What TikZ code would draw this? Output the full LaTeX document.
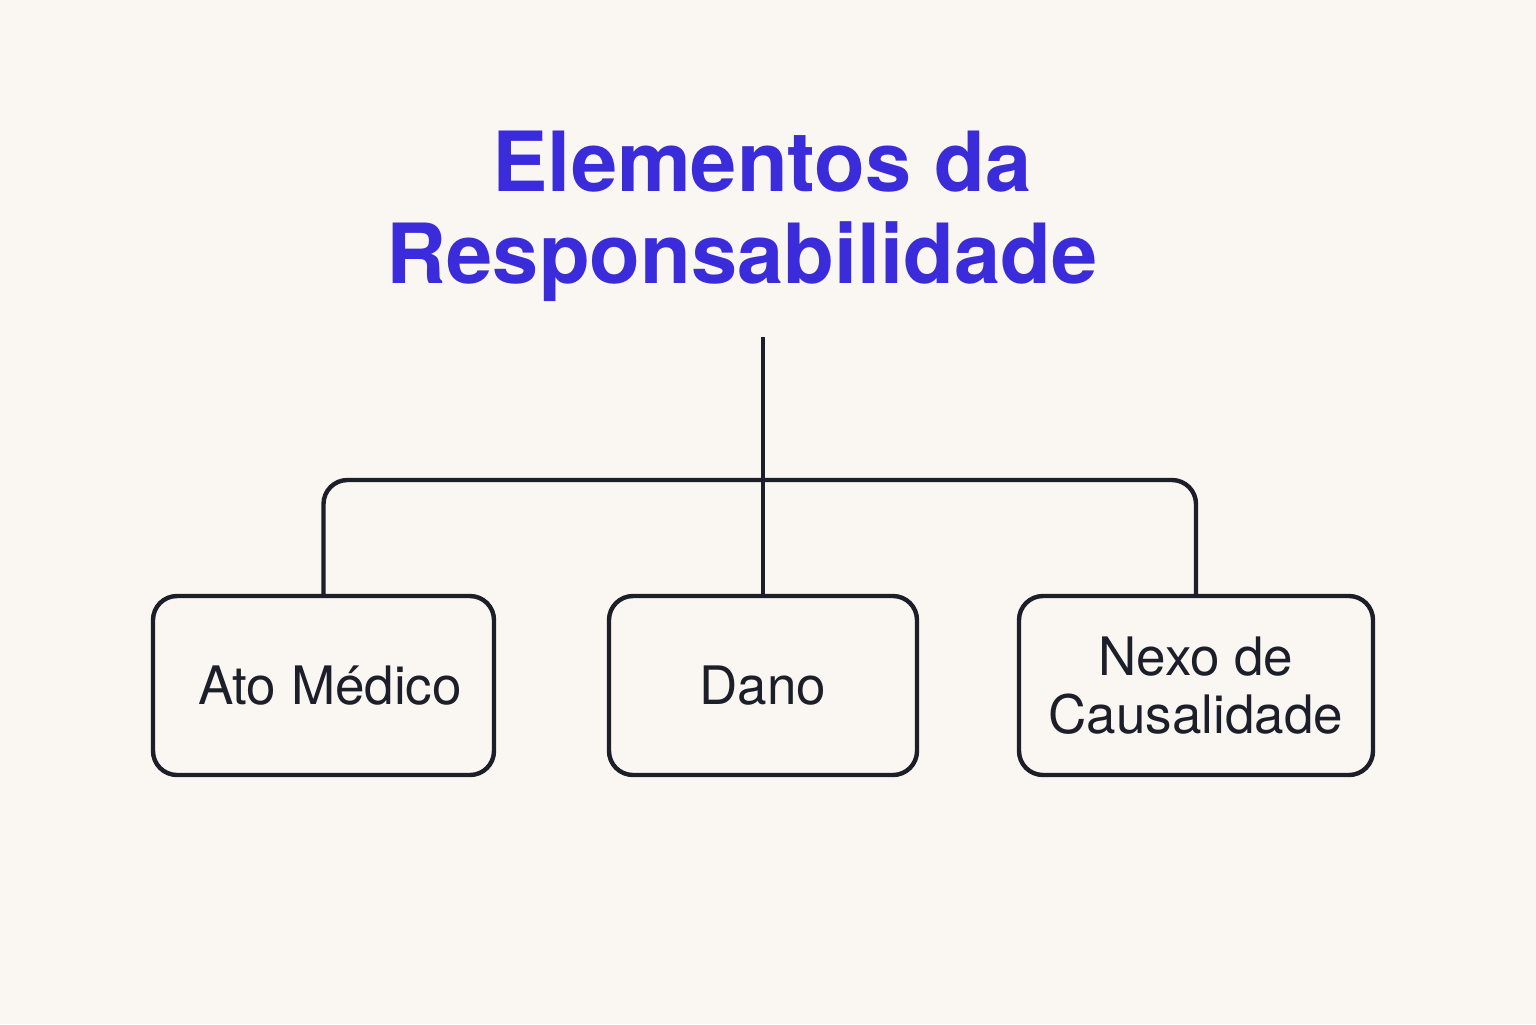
\documentclass[tikz,border=0pt]{standalone}
\usepackage{fontspec}
\setmainfont{TeX Gyre Heros}
\definecolor{bg}{HTML}{FAF7F2}
\definecolor{ttl}{HTML}{3A2BDB}
\definecolor{ink}{HTML}{1C1F2A}
\begin{document}
\begin{tikzpicture}[x=0.5pt,y=-0.5pt,
  box/.style={draw=ink,line width=2.2pt,rounded corners=12pt,minimum height=89.5pt,inner sep=0pt,align=center,font=\fontsize{26.5}{29}\selectfont,text=ink},
  conn/.style={draw=ink,line width=2.2pt,rounded corners=12pt},
  ttlfont/.style={font=\fontsize{41.5}{47}\selectfont\bfseries,text=ttl,align=center}]
\fill[bg] (0,0) rectangle (1536,1024);
\useasboundingbox (0,0) rectangle (1536,1024);
\node[ttlfont] (t1) at (762,162) {Elementos da};
\node[ttlfont] (t2) at (742,262) {Responsabilidade};
\node[box,minimum width=170.5pt] (b1) at (323.5,685.5) {\hspace*{6.5pt}Ato Médico};
\node[box,minimum width=154pt] (b2) at (763,685.5) {Dano};
\node[box,minimum width=177pt] (b3) at (1196,685.5) {Nexo de\\Causalidade};
\coordinate (stem) at (763,337);
\coordinate (bar) at (763,480);
\draw[conn] (stem) -- (b2.north);
\draw[conn] (b1.north) |- (bar) -| (b3.north);
\end{tikzpicture}
\end{document}
